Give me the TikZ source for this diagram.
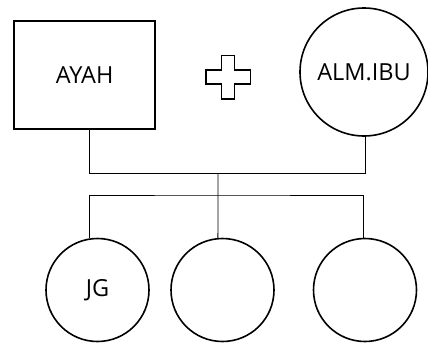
\documentclass[tikz,border=0pt]{standalone}
\usepackage{fontspec}
\setmainfont{Open Sans}
\begin{document}
\begin{tikzpicture}[x=1pt,y=-1pt,
  shapeline/.style={draw=black,line width=1.6pt},
  person/.style={shapeline,circle,inner sep=0pt,font=\fontsize{23.5}{26}\selectfont},
  linkline/.style={draw=black,line width=0.9pt}]
\useasboundingbox (0,0) rectangle (428,343);
\node[shapeline,rectangle,minimum width=141pt,minimum height=108.5pt,inner sep=0pt,
  font=\fontsize{23.5}{26}\selectfont] (ayah) at (84.7,75) {AYAH};
\node[person,minimum size=128pt] (ibu) at (364,72) {ALM.IBU};
\draw[shapeline,line width=1.5pt] (221.7,55.3) -- (234.7,55.3) -- (234.7,70) -- (250.7,70)
  -- (250.7,84) -- (234.7,84) -- (234.7,99) -- (221.7,99) -- (221.7,84) -- (206,84)
  -- (206,70) -- (221.7,70) -- cycle;
\node[person,minimum size=103pt] (c1) at (97.5,290) {JG};
\node[person,minimum size=103pt] (c2) at (222.5,290) {};
\node[person,minimum size=103pt] (c3) at (365,290) {};
\coordinate (j1) at (218,173.5);
\coordinate (j2) at (218,195);
\draw[linkline] (ayah.south -| 89.3,0) |- (j1) -| (ibu.271);
\draw[linkline] (j1) -- (c2.95);
\draw[linkline] (c1.99) |- (j2) -| (c3.92);
\end{tikzpicture}
\end{document}
